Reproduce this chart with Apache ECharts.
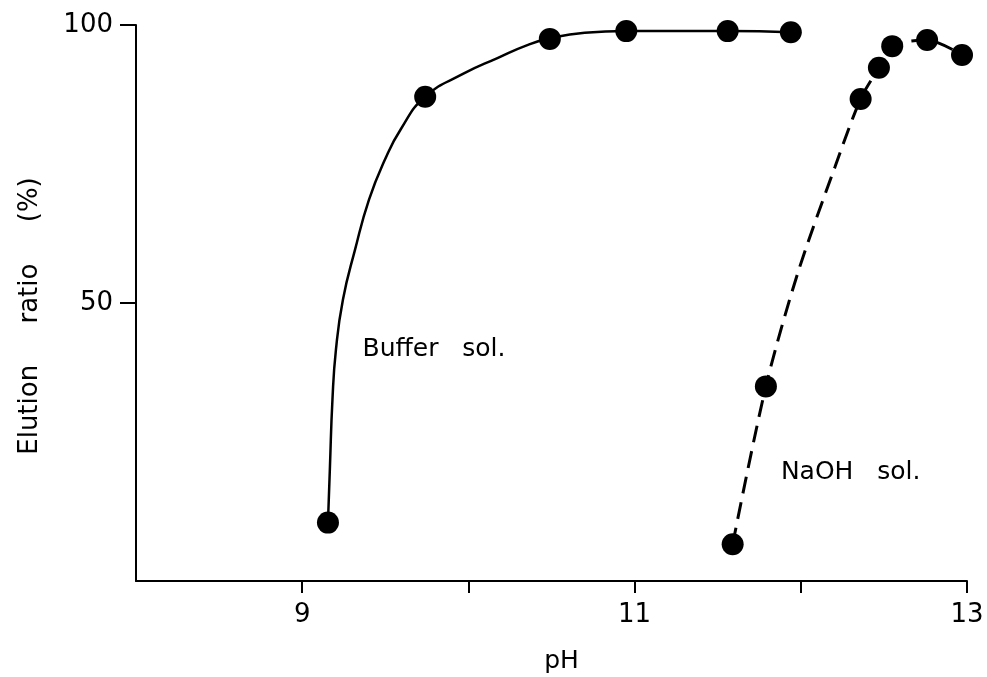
<!DOCTYPE html>
<html>
<head>
<meta charset="utf-8">
<script src="https://cdn.jsdelivr.net/npm/echarts@6/dist/echarts.min.js"></script>
<style>html,body{margin:0;padding:0;background:#fff;}#c{width:987px;height:677px;}</style>
</head>
<body>
<div id="c"></div>
<script>
// Measured points
const bufferPH    = [9.155, 9.74, 10.49, 10.95, 11.56, 11.94];
const bufferRatio = [10.5, 87.1, 97.5, 98.9, 98.9, 98.7];
const naohPH      = [11.59, 11.79, 12.36, 12.47, 12.55, 12.76, 12.97];
const naohRatio   = [6.6, 35.0, 86.7, 92.3, 96.2, 97.3, 94.6];

// Drawn curves
const bufferCurvePH    = [9.155, 9.167, 9.182, 9.203, 9.245, 9.318, 9.402, 9.498, 9.594, 9.74, 9.967, 10.178, 10.347, 10.49, 10.70, 10.95, 11.56, 11.94];
const bufferCurveRatio = [10.5, 20.6, 32.6, 41.6, 50.6, 59.6, 68.6, 75.8, 81.3, 87.1, 91.2, 94.1, 96.3, 97.6, 98.6, 98.9, 98.9, 98.7];
const naohCurvePH      = [11.59, 11.79, 11.983, 12.206, 12.36, 12.47, 12.55, 12.76, 12.97];
const naohCurveRatio   = [6.6, 35.0, 55.5, 74.5, 86.7, 92.3, 96.2, 97.3, 94.6];

// Axis ticks and labels
const xTicks = [9, 10, 11, 12, 13];
const xLabels = [9, 11, 13];
const yTicks = [50, 100];
const yLabels = [50, 100];

// Curve annotations [pH, ratio, text]
const annotations = [
  [9.793, 41.6, 'Buffer   sol.'],
  [12.30, 19.5, 'NaOH   sol.']
];

const FONT = 'DejaVu Sans';
const zip = (a, b) => a.map((v, i) => [v, b[i]]);

const chart = echarts.init(document.getElementById('c'), null, {renderer: 'canvas'});
chart.setOption({
  backgroundColor: '#fff',
  animation: false,
  grid: {left: 136, right: 20, top: 25, bottom: 96, containLabel: false, outerBoundsMode: 'none'},
  xAxis: {
    type: 'value', min: 8, max: 13, interval: 1,
    name: 'pH', nameLocation: 'middle', nameGap: 68,
    nameTextStyle: {fontFamily: FONT, fontSize: 25, color: '#000', padding: [0, 0, 0, 20]},
    axisLine: {show: true, onZero: false, lineStyle: {color: '#000', width: 2}},
    axisTick: {show: true, customValues: xTicks, length: 12, lineStyle: {color: '#000', width: 2}},
    axisLabel: {customValues: xLabels, margin: 21, fontFamily: FONT, fontSize: 26, color: '#000'},
    splitLine: {show: false}
  },
  yAxis: {
    type: 'value', min: 0, max: 100, interval: 50,
    name: 'Elution     ratio     (%)', nameLocation: 'middle', nameGap: 93,
    nameTextStyle: {fontFamily: FONT, fontSize: 26, color: '#000', padding: [0, 26, 0, 0]},
    axisLine: {show: true, onZero: false, lineStyle: {color: '#000', width: 2}},
    axisTick: {show: true, customValues: yTicks, length: 16, lineStyle: {color: '#000', width: 2}},
    axisLabel: {customValues: yLabels, margin: 23, fontFamily: FONT, fontSize: 26, color: '#000'},
    splitLine: {show: false}
  },
  series: [
    {
      type: 'line', data: zip(bufferCurvePH, bufferCurveRatio), smooth: 0.5,
      showSymbol: false, symbol: 'none',
      lineStyle: {color: '#000', width: 2.5}, z: 2
    },
    {
      type: 'line', data: zip(naohCurvePH, naohCurveRatio), smooth: 0.3,
      showSymbol: false, symbol: 'none',
      lineStyle: {color: '#000', width: 3, type: [17, 9]}, z: 2
    },
    {
      type: 'scatter', data: zip(bufferPH, bufferRatio), symbol: 'circle', symbolSize: 22,
      itemStyle: {color: '#000', opacity: 1}, z: 3
    },
    {
      type: 'scatter', data: zip(naohPH, naohRatio), symbol: 'circle', symbolSize: 22,
      itemStyle: {color: '#000', opacity: 1}, z: 3
    },
    {
      type: 'scatter', symbolSize: 0,
      itemStyle: {opacity: 1},
      data: annotations.map(a => ({value: [a[0], a[1]], name: a[2]})),
      label: {show: true, position: 'inside', formatter: p => p.name,
              fontFamily: FONT, fontSize: 25, color: '#000'},
      z: 4
    }
  ]
});
</script>
</body>
</html>
